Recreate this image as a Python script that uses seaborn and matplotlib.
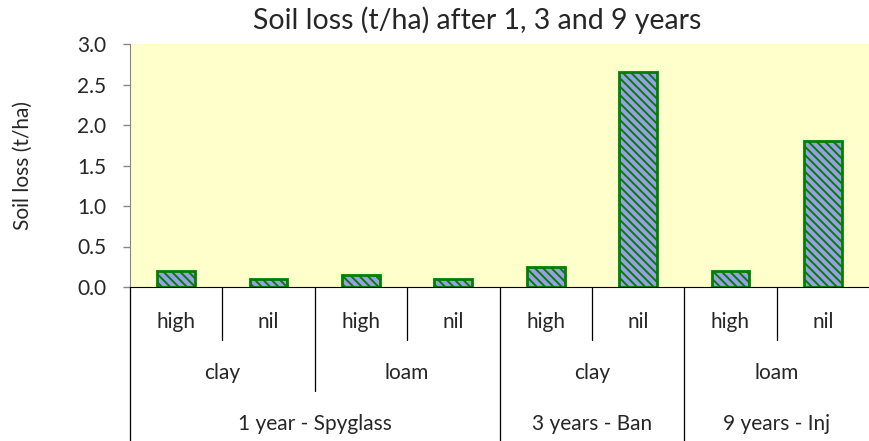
import matplotlib
matplotlib.use("Agg")
import matplotlib.pyplot as plt
import matplotlib.transforms as mtransforms
import pandas as pd
import seaborn as sns

# data
periods = ["1 year - Spyglass", "1 year - Spyglass", "1 year - Spyglass", "1 year - Spyglass",
           "3 years - Ban", "3 years - Ban", "9 years - Inj", "9 years - Inj"]
soils = ["clay", "clay", "loam", "loam", "clay", "clay", "loam", "loam"]
levels = ["high", "nil", "high", "nil", "high", "nil", "high", "nil"]
soil_loss = [0.2, 0.1, 0.15, 0.1, 0.25, 2.65, 0.2, 1.8]
y_ticks = [0.0, 0.5, 1.0, 1.5, 2.0, 2.5, 3.0]

df = pd.DataFrame({"period": periods, "soil": soils, "level": levels, "loss": soil_loss})
df["pos"] = range(len(df))

sns.set_style("white")
plt.rcParams["font.family"] = ["Lato", "DejaVu Sans"]
plt.rcParams["hatch.linewidth"] = 1.4

fig = plt.figure(figsize=(8.69, 4.41), dpi=100)
ax = fig.add_axes([130 / 869, 1 - 287 / 441, 739 / 869, 243 / 441])
ax.set_facecolor("#ffffcc")

sns.barplot(data=df, x="pos", y="loss", width=0.41, color="#8f8ff5",
            edgecolor="#008000", linewidth=2, ax=ax, native_scale=True)
for p in ax.patches:
    p.set_hatch("\\" * 4)
    p.set_edgecolor("#008000")

fs = 15
ax.set_xlim(-0.5, 7.5)
ax.set_ylim(0, 3.0)
ax.set_yticks(y_ticks)
ax.set_yticklabels([f"{v:.1f}" for v in y_ticks], fontsize=fs)
ax.set_xticks([])
ax.set_xlabel("")
ax.set_ylabel("Soil loss (t/ha)", fontsize=fs, labelpad=32)
ax.tick_params(axis="y", direction="out", length=5, width=1, color="#868686", left=True, pad=12)
ax.set_title("Soil loss (t/ha) after 1, 3 and 9 years", fontsize=20.5, pad=11,
             x=(477 - 130) / 739)

for side in ["top", "right"]:
    ax.spines[side].set_visible(False)
ax.spines["left"].set_color("#868686")
ax.spines["bottom"].set_color("#000000")

# hierarchical category axis
trans = mtransforms.blended_transform_factory(ax.transData, ax.transAxes)
row_y = [-0.144, -0.354, -0.564]
row_end = [-0.22, -0.43, -0.64]
line_kw = dict(color="black", lw=0.9, transform=trans, clip_on=False)

for i, lv in enumerate(levels):
    ax.text(i, row_y[0], lv, ha="center", va="center", fontsize=fs, transform=trans)


def groups(keys):
    out = []
    start = 0
    for i in range(1, len(keys) + 1):
        if i == len(keys) or keys[i] != keys[start]:
            out.append((start, i - 1, keys[start]))
            start = i
    return out


soil_keys = [p + "|" + s for p, s in zip(periods, soils)]
for a, b, k in groups(soil_keys):
    ax.text((a + b) / 2, row_y[1], k.split("|")[1], ha="center", va="center",
            fontsize=fs, transform=trans)
for a, b, k in groups(periods):
    ax.text((a + b) / 2, row_y[2], k, ha="center", va="center", fontsize=fs, transform=trans)

# separator lines between categories
period_bounds = {b + 0.5 for a, b, k in groups(periods)}
soil_bounds = {b + 0.5 for a, b, k in groups(soil_keys)}
for i in range(len(levels)):
    xb = i - 0.5
    if xb in period_bounds or i == 0:
        end = row_end[2]
    elif xb in soil_bounds:
        end = row_end[1]
    else:
        end = row_end[0]
    ax.plot([xb, xb], [0, end], **line_kw)

fig.savefig("out.png", dpi=100, facecolor="white")
